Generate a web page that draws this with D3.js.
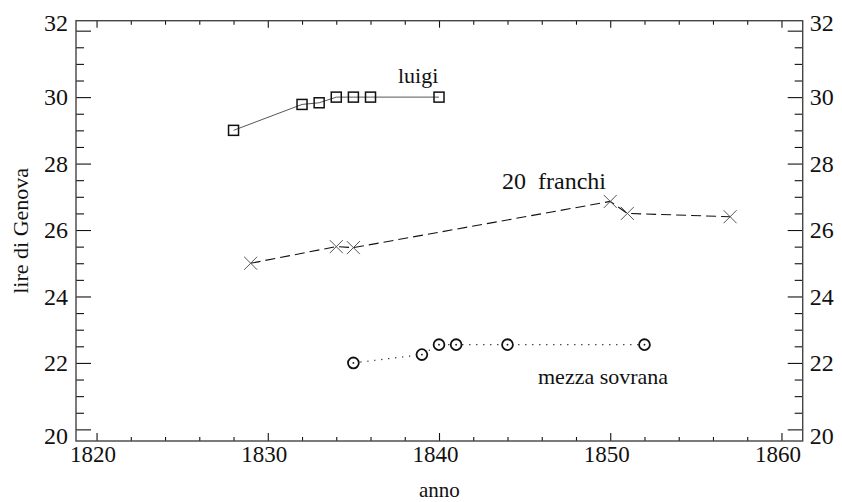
<!DOCTYPE html>
<html>
<head>
<meta charset="utf-8">
<script src="https://cdn.jsdelivr.net/npm/d3@7"></script>
<style>
  html, body { margin: 0; padding: 0; background: #fff; }
  svg { display: block; }
  svg text { font-family: "Liberation Serif", "DejaVu Serif", serif !important; fill: #111; }
</style>
</head>
<body>
<svg id="chart" width="842" height="502"></svg>
<script>
// Exchange value of gold coins in lire di Genova, by year
const luigiYears = [1828, 1832, 1833, 1834, 1835, 1836, 1840];
const luigiValues = [29.0, 29.78, 29.83, 30.0, 30.0, 30.0, 30.0];

const franchiYears = [1829, 1834, 1835, 1850, 1851, 1857];
const franchiValues = [25.0, 25.5, 25.47, 26.86, 26.5, 26.4];

const sovranaYears = [1835, 1839, 1840, 1841, 1844, 1852];
const sovranaValues = [22.0, 22.25, 22.55, 22.55, 22.55, 22.55];

const xTickValues = [1820, 1830, 1840, 1850, 1860];
const yTickValues = [20, 22, 24, 26, 28, 30, 32];

const seriesLabels = ["luigi", "20 franchi", "mezza sovrana"];
const xTitle = "anno";
const yTitle = "lire di Genova";

const SERIF = '"Liberation Serif", "DejaVu Serif", serif';
const svg = d3.select("#chart");
const frameL = 76, frameR = 802.7, frameT = 20.7, frameB = 441;

const x = d3.scaleLinear().domain([1818.8, 1861.24]).range([frameL, frameR]);
const y = d3.scaleLinear().domain([19.65, 32.3]).range([frameB, frameT]);

const xMinor = d3.range(1820, 1861, 2).filter(v => v % 10 !== 0);
const yMinor = d3.range(20, 32.01, 0.5).filter(v => v % 2 !== 0);

function styleAxis(g, labels, size) {
  g.attr("font-family", SERIF);
  g.select(".domain").remove();
  g.selectAll(".tick line").attr("stroke", "#111").attr("stroke-width", 1.1);
  g.selectAll(".tick text").style("font-size", size + "px").attr("fill", "#111");
  if (!labels) g.selectAll(".tick text").remove();
}
// the end labels of the value axis sit toward the frame corners
function nudgeEnds(g) {
  const yMax = d3.max(yTickValues), yMin = d3.min(yTickValues);
  g.selectAll(".tick text")
    .attr("y", d => d === yMax ? -8 : d === yMin ? 6 : 0);
}

// bottom axis
svg.append("g").attr("transform", `translate(0,${frameB})`)
  .call(d3.axisBottom(x).tickValues(xTickValues).tickSize(-8).tickPadding(5).tickFormat(d3.format("d")))
  .call(g => styleAxis(g, true, 23))
  .call(g => g.selectAll(".tick text").attr("dx", -4));
svg.append("g").attr("transform", `translate(0,${frameB})`)
  .call(d3.axisBottom(x).tickValues(xMinor).tickSize(-4).tickFormat(""))
  .call(g => styleAxis(g, false));
// top axis
svg.append("g").attr("transform", `translate(0,${frameT})`)
  .call(d3.axisTop(x).tickValues(xTickValues).tickSize(-7).tickFormat(""))
  .call(g => styleAxis(g, false));
svg.append("g").attr("transform", `translate(0,${frameT})`)
  .call(d3.axisTop(x).tickValues(xMinor).tickSize(-4).tickFormat(""))
  .call(g => styleAxis(g, false));
// left axis
svg.append("g").attr("transform", `translate(${frameL},0)`)
  .call(d3.axisLeft(y).tickValues(yTickValues).tickSize(-15).tickPadding(8).tickFormat(d3.format("d")))
  .call(g => styleAxis(g, true, 24))
  .call(nudgeEnds);
svg.append("g").attr("transform", `translate(${frameL},0)`)
  .call(d3.axisLeft(y).tickValues(yMinor).tickSize(-8).tickFormat(""))
  .call(g => styleAxis(g, false));
// right axis
svg.append("g").attr("transform", `translate(${frameR},0)`)
  .call(d3.axisRight(y).tickValues(yTickValues).tickSize(-15).tickPadding(7).tickFormat(d3.format("d")))
  .call(g => styleAxis(g, true, 24))
  .call(nudgeEnds);
svg.append("g").attr("transform", `translate(${frameR},0)`)
  .call(d3.axisRight(y).tickValues(yMinor).tickSize(-8).tickFormat(""))
  .call(g => styleAxis(g, false));

// frame
svg.append("rect")
  .attr("x", frameL).attr("y", frameT)
  .attr("width", frameR - frameL).attr("height", frameB - frameT)
  .attr("fill", "none").attr("stroke", "#444").attr("stroke-width", 1.4);

const line = d3.line().x(d => x(d[0])).y(d => y(d[1]));
const zip = (a, b) => a.map((v, i) => [v, b[i]]);

const luigi = zip(luigiYears, luigiValues);
const franchi = zip(franchiYears, franchiValues);
const sovrana = zip(sovranaYears, sovranaValues);

// luigi: solid line with open squares
svg.append("path").datum(luigi).attr("d", line)
  .attr("fill", "none").attr("stroke", "#444").attr("stroke-width", 0.9);
svg.append("g").selectAll("rect").data(luigi).join("rect")
  .attr("x", d => x(d[0]) - 5).attr("y", d => y(d[1]) - 5)
  .attr("width", 10).attr("height", 10)
  .attr("fill", "none").attr("stroke", "#111").attr("stroke-width", 1.5);

// 20 franchi: dashed line with crosses
svg.append("path").datum(franchi).attr("d", line)
  .attr("fill", "none").attr("stroke", "#111").attr("stroke-width", 1.1)
  .attr("stroke-dasharray", "10,5");
svg.append("g").selectAll("path").data(franchi).join("path")
  .attr("d", d => {
    const cx = x(d[0]), cy = y(d[1]), s = 6.5;
    return `M${cx - s},${cy - s}L${cx + s},${cy + s}M${cx - s},${cy + s}L${cx + s},${cy - s}`;
  })
  .attr("stroke", "#555").attr("stroke-width", 1).attr("fill", "none");

// mezza sovrana: dotted line with circles
svg.append("path").datum(sovrana).attr("d", line)
  .attr("fill", "none").attr("stroke", "#222").attr("stroke-width", 1.2)
  .attr("stroke-dasharray", "1.2,5.8");
const circ = svg.append("g").selectAll("g").data(sovrana).join("g")
  .attr("transform", d => `translate(${x(d[0])},${y(d[1])})`);
circ.append("circle").attr("r", 5.4)
  .attr("fill", "#fff").attr("stroke", "#111").attr("stroke-width", 1.8);
circ.append("circle").attr("r", 0.9).attr("fill", "#111");

// series labels
const label = (xp, yp, size) => svg.append("text")
  .attr("x", xp).attr("y", yp)
  .attr("font-family", SERIF).style("font-size", size + "px");
label(398, 83, 22).text(seriesLabels[0]);
const fr = label(502, 189, 24);
const frWords = seriesLabels[1].split(" ");
fr.append("tspan").text(frWords[0] + " ");
fr.append("tspan").attr("x", 538).text(frWords[1]);
label(538, 384, 22).text(seriesLabels[2]);

// axis titles
svg.append("text").attr("x", (frameL + frameR) / 2).attr("y", 497)
  .attr("text-anchor", "middle").attr("font-family", SERIF)
  .style("font-size", "21px").text(xTitle);
svg.append("text")
  .attr("transform", `translate(28,${(frameT + frameB) / 2}) rotate(-90)`)
  .attr("text-anchor", "middle").attr("font-family", SERIF)
  .style("font-size", "22px").text(yTitle);
</script>
</body>
</html>
